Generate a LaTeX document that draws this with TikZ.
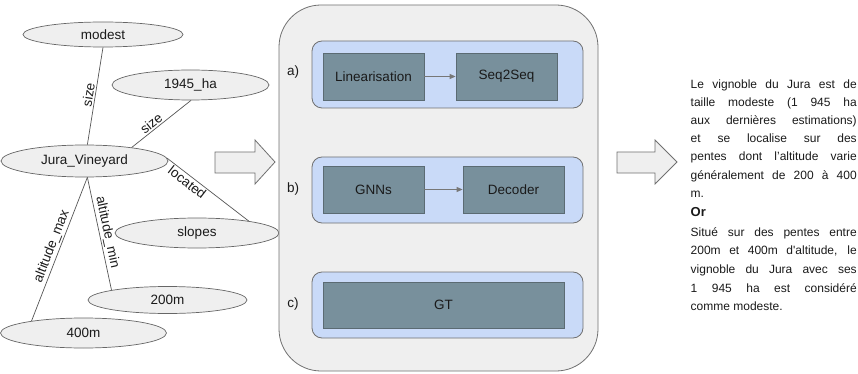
\documentclass[tikz,border=0pt]{standalone}
\usepackage{fontspec}
\newfontfamily\lsans{Liberation Sans}
\usetikzlibrary{shapes.geometric,arrows.meta}
\definecolor{ellfill}{HTML}{EFEFEF}
\definecolor{ellline}{HTML}{666666}
\definecolor{edgegray}{HTML}{555555}
\definecolor{panelfill}{HTML}{EFEFEF}
\definecolor{panelline}{HTML}{707070}
\definecolor{bluefill}{HTML}{C9DAF8}
\definecolor{darkfill}{HTML}{78909C}
\definecolor{darkline}{HTML}{5B6B73}
\definecolor{txt}{HTML}{1A1A1A}
\begin{document}
\begin{tikzpicture}[x=1pt,y=-1pt,
  ent/.style={ellipse,draw=ellline,fill=ellfill,line width=0.7pt,inner sep=0pt,
    font=\lsans\fontsize{13.5}{15}\selectfont,text=txt},
  edge/.style={draw=edgegray,line width=0.7pt},
  elab/.style={font=\lsans\fontsize{13.5}{15}\selectfont,text=txt,inner sep=1.5pt},
  panel/.style={draw=panelline,fill=panelfill,line width=0.8pt,rounded corners=42pt,inner sep=0pt},
  group/.style={draw=panelline,fill=bluefill,line width=0.8pt,rounded corners=10pt,inner sep=0pt},
  stage/.style={draw=darkline,fill=darkfill,line width=0.8pt,inner sep=0pt,
    font=\lsans\fontsize{13.5}{15}\selectfont,text=txt},
  flow/.style={draw=edgegray!80,line width=0.9pt,-{Triangle[length=6pt,width=5pt]}},
  bigarrow/.style={draw=panelline,fill=panelfill,line width=0.8pt,line join=miter},
  tag/.style={font=\lsans\fontsize{13.5}{15}\selectfont,text=txt,inner sep=0pt}
]
\useasboundingbox (0,0) rectangle (858,374);

% knowledge graph
\node[ent,minimum width=160pt,minimum height=25pt] (modest) at (103,34.5) {modest};
\node[ent,minimum width=157pt,minimum height=30pt] (h1945) at (190.5,85) {1945\_ha};
\node[ent,minimum width=167pt,minimum height=32pt] (jura) at (84.5,161) {Jura\_Vineyard};
\node[ent,minimum width=164pt,minimum height=30pt] (slopes) at (197,233) {slopes};
\node[ent,minimum width=159pt,minimum height=27pt] (m200) at (167.5,300) {200m};
\node[ent,minimum width=166pt,minimum height=30pt] (m400) at (83.5,333) {400m};

\draw[edge] (modest.-90) -- node[elab,above,sloped]{size} (jura.80);
\draw[edge] (h1945.-88) -- node[elab,above,sloped,pos=0.6]{size} (jura.16);
\draw[edge] (jura.2) -- node[elab,below,sloped,pos=0.3]{located} (slopes.13);
\draw[edge] (jura.-80) -- node[elab,above,sloped]{altitude\_min} (m200.170);
\draw[edge] (jura.-80) -- node[elab,above,sloped]{altitude\_max} (m400.167);

% big arrows
\draw[bigarrow] (215,152) -- (255,152) -- (255,140) -- (275,162) -- (255,184) -- (255,173) -- (215,173) -- cycle;
\draw[bigarrow] (617,152) -- (655,152) -- (655,140) -- (677,162) -- (655,184) -- (655,173) -- (617,173) -- cycle;

% models panel
\node[panel,minimum width=319pt,minimum height=366pt] (outer) at (438.5,188) {};
\node[group,minimum width=271pt,minimum height=67pt] (ga) at (447.5,74.5) {};
\node[group,minimum width=271pt,minimum height=66pt] (gb) at (447.5,190) {};
\node[group,minimum width=271pt,minimum height=66pt] (gc) at (447.5,305) {};

\node[tag] (la) at (293,72) {a)};
\node[tag] (lb) at (293,189) {b)};
\node[tag] (lc) at (293,304) {c)};

\node[stage,minimum width=101pt,minimum height=47pt] (lin) at (373.5,76.5) {Linearisation};
\node[stage,minimum width=101pt,minimum height=47pt] (seq) at (506.5,76.5) {Seq2Seq};
\node[stage,minimum width=101pt,minimum height=47pt] (gnn) at (373.5,189.5) {GNNs};
\node[stage,minimum width=101pt,minimum height=47pt] (dec) at (513.5,189.5) {Decoder};
\node[stage,minimum width=241pt,minimum height=46pt] (gt) at (443.5,305) {GT};

\draw[flow] (lin) -- (seq);
\draw[flow] (gnn) -- (dec);

% output text
\node[anchor=north west,text width=166pt,align=justify,inner sep=0pt,text=txt,
  font=\lsans\fontsize{12}{18.1}\selectfont] (out) at (690.5,79.7)
{\hyphenpenalty=10000\tolerance=10000
Le vignoble du Jura est de\linebreak taille modeste (1 945 ha\linebreak aux dernières estimations)\linebreak et se localise sur des\linebreak pentes dont l’altitude varie\linebreak généralement de 200 à 400\linebreak m.\par
\vspace{1.5pt}{\bfseries\fontsize{13}{18.1}\selectfont Or}\par
\vspace{1pt}{\fontsize{12}{18.6}\selectfont
Situé sur des pentes entre\linebreak 200m et 400m d'altitude, le\linebreak vignoble du Jura avec ses\linebreak 1 945 ha est considéré\linebreak comme modeste.\par}};
\end{tikzpicture}
\end{document}
